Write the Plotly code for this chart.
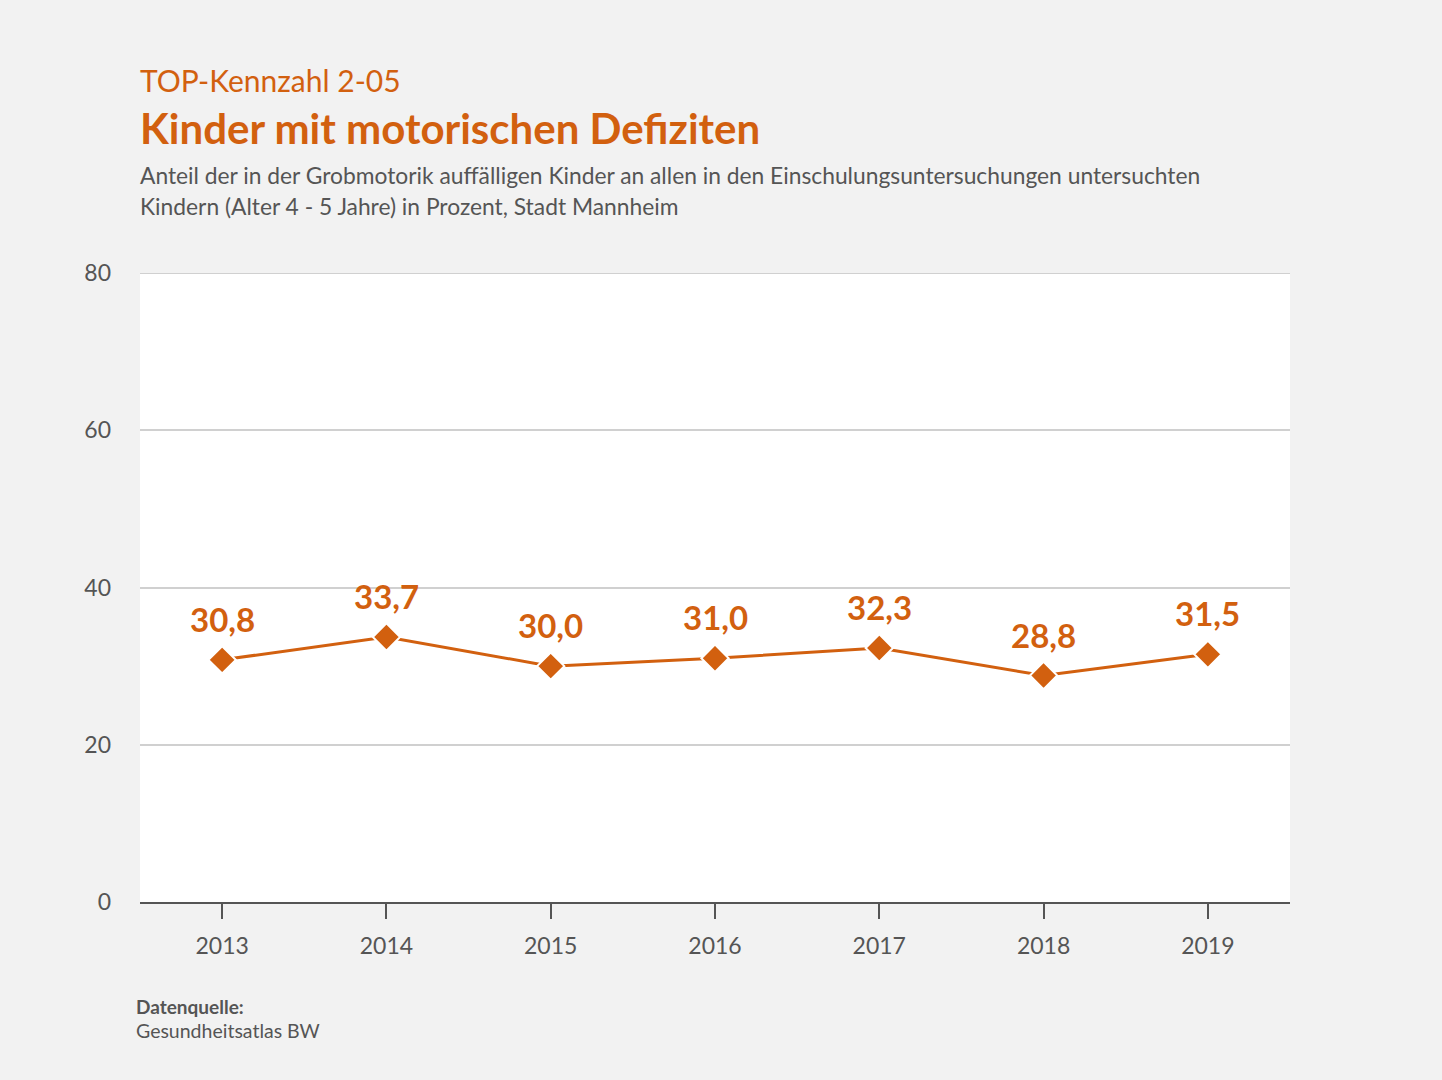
import plotly.graph_objects as go

years = ["2013", "2014", "2015", "2016", "2017", "2018", "2019"]
values = [30.8, 33.7, 30.0, 31.0, 32.3, 28.8, 31.5]
y_ticks = [0, 20, 40, 60, 80]

ORANGE = "#D2600F"
GRAY = "#555555"
FONT = "Lato"

labels = [f"{v:.1f}".replace(".", ",") for v in values]

fig = go.Figure()
fig.add_trace(go.Scatter(
    x=years, y=values, mode="lines+markers",
    line=dict(color=ORANGE, width=3),
    marker=dict(symbol="diamond", size=21, color=ORANGE, line=dict(color="white", width=2)),
    cliponaxis=False, hoverinfo="skip",
))
for i, (v, lab) in enumerate(zip(values, labels)):
    fig.add_annotation(x=i, y=v, xref="x", yref="y", text=f"<b>{lab}</b>", showarrow=False,
                       yanchor="middle", yshift=41,
                       font=dict(family=FONT, size=33, color=ORANGE))

fig.update_layout(
    width=1442, height=1080,
    paper_bgcolor="#F2F2F2", plot_bgcolor="white",
    margin=dict(l=140, r=152, t=273, b=178),
    showlegend=False,
    font=dict(family=FONT, color=GRAY),
    xaxis=dict(
        type="category", range=[-0.5, 6.5],
        showgrid=False, showline=True, linecolor="#555555", linewidth=2,
        ticks="outside", ticklen=15, tickwidth=2, tickcolor="#555555",
        tickfont=dict(size=23, color=GRAY, family=FONT), ticklabelstandoff=7,
        zeroline=False,
    ),
    yaxis=dict(
        range=[0, 80], tickvals=y_ticks,
        showgrid=True, gridcolor="#D0D0D0", gridwidth=2,
        showline=False, zeroline=False, ticks="",
        tickfont=dict(size=23, color=GRAY, family=FONT), ticklabelstandoff=28,
    ),
)
# top gridline (at the range edge plotly omits it)
fig.add_shape(type="line", xref="paper", yref="y", x0=0, x1=1, y0=y_ticks[-1], y1=y_ticks[-1],
              line=dict(color="#D0D0D0", width=2), layer="below")

fig.add_annotation(text="TOP-Kennzahl 2-05", xref="paper", yref="paper", x=0, y=1,
                   xanchor="left", yanchor="middle", yshift=193, xshift=-2, showarrow=False,
                   font=dict(family=FONT, size=30, color=ORANGE))
fig.add_annotation(text="<b>Kinder mit motorischen Defiziten</b>", xref="paper", yref="paper", x=0, y=1,
                   xanchor="left", yanchor="middle", yshift=145, xshift=-2, showarrow=False,
                   font=dict(family=FONT, size=42, color=ORANGE))
fig.add_annotation(text="Anteil der in der Grobmotorik auffälligen Kinder an allen in den Einschulungsuntersuchungen untersuchten",
                   xref="paper", yref="paper", x=0, y=1, align="left",
                   xanchor="left", yanchor="middle", yshift=98, xshift=-2, showarrow=False,
                   font=dict(family=FONT, size=22.8, color=GRAY))
fig.add_annotation(text="Kindern (Alter 4 - 5 Jahre) in Prozent, Stadt Mannheim",
                   xref="paper", yref="paper", x=0, y=1, align="left",
                   xanchor="left", yanchor="middle", yshift=67, xshift=-2, showarrow=False,
                   font=dict(family=FONT, size=22.8, color=GRAY))
fig.add_annotation(text="<b>Datenquelle:</b>", xref="paper", yref="paper", x=0, y=0,
                   xanchor="left", yanchor="middle", yshift=-104, xshift=-6, showarrow=False, align="left",
                   font=dict(family=FONT, size=19, color=GRAY))
fig.add_annotation(text="Gesundheitsatlas BW", xref="paper", yref="paper", x=0, y=0,
                   xanchor="left", yanchor="middle", yshift=-128, xshift=-6, showarrow=False, align="left",
                   font=dict(family=FONT, size=19.5, color=GRAY))

fig.write_html("out.html", config={"displayModeBar": False},
               post_script="document.body.style.margin='0';")
